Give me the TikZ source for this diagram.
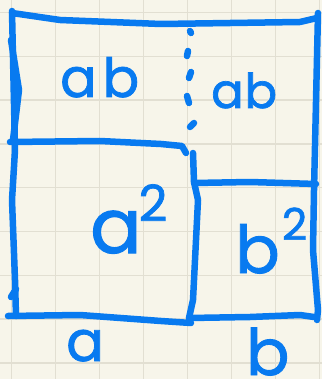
\documentclass[tikz,border=0pt]{standalone}
\usepackage{fontspec}
\setmainfont{Poppins}
\newfontfamily\handfont[FakeBold=1.4]{Poppins}
\usetikzlibrary{positioning}

\definecolor{inkblue}{RGB}{8,122,240}
\definecolor{paper}{RGB}{247,245,234}
\definecolor{gridline}{RGB}{226,223,210}

\tikzset{
  pen/.style={draw=inkblue, line width=6.5pt, line cap=round, line join=round},
  hand/.style={inkblue, inner sep=0pt, anchor=base west, text depth=0pt,
    font=\handfont\fontsize{#1}{#1}\selectfont},
}

\begin{document}
\begin{tikzpicture}[x=1pt, y=-1pt]
        % paper with grid
        \fill[paper] (0,0) rectangle (322,379);
        \useasboundingbox (0,0) rectangle (322,379);
        \foreach \x in {11.5, 55.5, 99.5, 143.5, 187.5, 231.5, 275.5, 319.5} {
            \draw[gridline, line width=1.5pt] (\x,0) -- (\x,379);
        }
        \foreach \y in {12.5, 56.3, 100.1, 143.9, 187.7, 231.5, 275.3, 319.1, 362.9} {
            \draw[gridline, line width=1.5pt] (0,\y) -- (322,\y);
        }

        % outer frame
        \draw[pen] (12,13) -- (60,20) -- (161,24) -- (300,22) -- (317,18);
        \draw[pen] (318,13) -- (314,190) -- (313,250) -- (318,310) -- (317,320);
        \draw[pen] (12,11) -- (15,150) -- (12,200) -- (15,280) -- (16,316);
        \draw[pen] (11,40) -- (19,90) -- (13,140);
        \draw[pen] (11,297) -- (16,289);

        % square a^2
        \draw[pen] (10,142) -- (100,141) -- (161,144) -- (182,146) -- (186,153);
        \draw[pen] (8,316) -- (80,315) -- (161,321) -- (191,323);

        % square b^2
        \draw[pen] (193,153) -- (194,182) -- (198,200) -- (193,300) -- (189,318);
        \draw[pen] (194,183) -- (250,182) -- (316,184);
        \draw[pen] (189,318) -- (250,317) -- (300,315) -- (314,317);

        % dotted split of the top strip
        \foreach \ya/\xa/\yb/\xb in {31/190/33/191, 51/188/56/187, 72/191/78/189, 96/187/103/189, 123/194/127/190} {
            \draw[pen] (\xa,\ya) -- (\xb,\yb);
        }

        % labels
        \node[hand=54] (ab-left) at (60,97) {a\hspace{6pt}b};
        \node[hand=48] (ab-right) at (211,108) {a\hspace{1pt}b};
        \node[hand=76] (a-sq) at (90,253)
            {a\hspace{-3pt}\raisebox{0.42em}{\fontsize{50}{50}\selectfont 2}};
        \node[hand=66] (b-sq) at (235,273)
            {b\hspace{2pt}\raisebox{0.5em}{\fontsize{44}{44}\selectfont 2}};
        \node[hand=56] (side-a) at (66,361) {a};
        \node[hand=64] (side-b) at (246,375) {b};
    \end{tikzpicture}
\end{document}
